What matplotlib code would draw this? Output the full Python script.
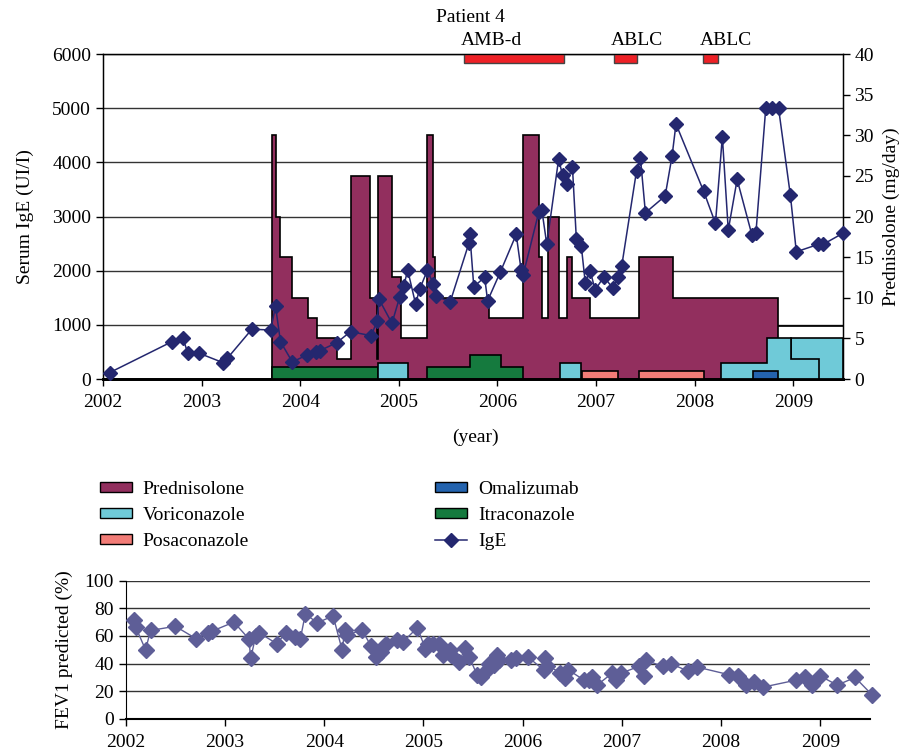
import numpy as np
import matplotlib.pyplot as plt
from matplotlib.patches import Patch
from matplotlib.lines import Line2D

plt.rcParams['font.family'] = ['Liberation Serif', 'DejaVu Serif']
plt.rcParams['font.size'] = 14

years = [2002, 2003, 2004, 2005, 2006, 2007, 2008, 2009]

# serum IgE (left axis)
ige_x = [2002.07, 2002.70, 2002.81, 2002.86, 2002.97, 2003.22, 2003.26, 2003.51, 2003.70,
         2003.75, 2003.80, 2003.92, 2004.07, 2004.16, 2004.20, 2004.37, 2004.51, 2004.72,
         2004.78, 2004.80, 2004.93, 2005.01, 2005.05, 2005.09, 2005.17, 2005.21, 2005.29,
         2005.35, 2005.38, 2005.52, 2005.71, 2005.72, 2005.76, 2005.87, 2005.90, 2006.03,
         2006.19, 2006.24, 2006.26, 2006.42, 2006.45, 2006.50, 2006.62, 2006.66, 2006.70,
         2006.76, 2006.80, 2006.85, 2006.89, 2006.94, 2006.99, 2007.08, 2007.17, 2007.22,
         2007.26, 2007.41, 2007.45, 2007.50, 2007.70, 2007.77, 2007.81, 2008.09, 2008.21,
         2008.28, 2008.34, 2008.43, 2008.58, 2008.62, 2008.72, 2008.78, 2008.85, 2008.97,
         2009.03, 2009.25, 2009.30, 2009.50]
ige_y = [120, 690, 760, 480, 480, 300, 380, 920, 905,
         1340, 690, 315, 445, 495, 525, 670, 875, 800,
         1070, 1470, 1030, 1520, 1720, 2010, 1385, 1655, 2010,
         1750, 1530, 1420, 2505, 2670, 1705, 1880, 1445, 1980,
         2670, 2010, 1920, 3090, 3120, 2490, 4060, 3765, 3610,
         3920, 2580, 2455, 1780, 2000, 1645, 1890, 1675, 1890,
         2090, 3845, 4075, 3070, 3380, 4115, 4710, 3470, 2875,
         4475, 2750, 3685, 2660, 2690, 5000, 5000, 5000, 3390,
         2350, 2485, 2485, 2690]

# treatments (right axis, mg/day scale), step edges + values
pred_edges = [2003.71, 2003.75, 2003.80, 2003.92, 2004.08, 2004.17, 2004.37, 2004.51, 2004.71,
              2004.78, 2004.79, 2004.93, 2005.02, 2005.29, 2005.35, 2005.37, 2005.91, 2006.26,
              2006.42, 2006.45, 2006.51, 2006.62, 2006.71, 2006.76, 2006.94, 2007.44, 2007.78,
              2008.84]
pred_vals = [30, 20, 15, 10, 7.5, 5, 2.5, 25, 10, 2.5, 25, 12.5, 5, 30, 15, 10, 7.5,
             30, 15, 7.5, 20, 7.5, 15, 10, 7.5, 15, 10]
pred_tail_edges = [2008.84, 2009.5]
pred_tail_vals = [6.5]

itra_edges = [2003.71, 2004.79, 2005.29, 2005.72, 2006.04, 2006.26]
itra_vals = [1.5, 0, 1.5, 3, 1.5]

vori_edges = [2004.79, 2005.09, 2006.63, 2006.85, 2008.27, 2008.73, 2008.98, 2009.26]
vori_vals = [2, 0, 2, 0, 2, 5, 2.5]
vori2_edges = [2008.98, 2009.5]
vori2_vals = [5]

posa_edges = [2006.86, 2007.22, 2007.44, 2008.09]
posa_vals = [1, 0, 1]

omal_edges = [2008.59, 2008.84]
omal_vals = [1]

amb_start = [2005.66, 2007.18, 2008.08]
amb_end = [2006.67, 2007.41, 2008.24]
amb_labels = ['AMB-d', 'ABLC', 'ABLC']

# FEV1 % predicted
fev_x = [2002.08, 2002.10, 2002.20, 2002.25, 2002.50, 2002.71, 2002.83, 2002.87, 2003.09,
         2003.24, 2003.26, 2003.31, 2003.34, 2003.52, 2003.62, 2003.71, 2003.76, 2003.81,
         2003.93, 2004.09, 2004.18, 2004.21, 2004.23, 2004.38, 2004.47, 2004.52, 2004.57,
         2004.62, 2004.73, 2004.79, 2004.94, 2005.02, 2005.05, 2005.10, 2005.16, 2005.20,
         2005.27, 2005.28, 2005.36, 2005.42, 2005.46, 2005.54, 2005.58, 2005.64, 2005.66,
         2005.71, 2005.74, 2005.76, 2005.88, 2005.93, 2006.05, 2006.21, 2006.23, 2006.25,
         2006.38, 2006.43, 2006.46, 2006.62, 2006.67, 2006.70, 2006.75, 2006.90, 2006.94,
         2006.99, 2007.17, 2007.22, 2007.24, 2007.41, 2007.49, 2007.67, 2007.76, 2008.08,
         2008.17, 2008.25, 2008.33, 2008.42, 2008.75, 2008.84, 2008.92, 2009.00, 2009.17,
         2009.35, 2009.52]
fev_y = [71.5, 66.5, 50, 64, 67, 58, 62.5, 63.5, 70,
         58, 44, 60, 62.5, 54.5, 62.5, 59.5, 58, 76,
         69.5, 74.5, 50, 64.5, 60.5, 64.5, 53, 45, 48.5,
         54, 57, 55.5, 66, 50.5, 54.5, 54, 54, 46.5,
         49.5, 46.5, 41.5, 51, 45, 32, 30, 35.5, 40,
         39, 46.5, 42.5, 42.5, 44, 45, 35.5, 44, 38.5,
         33.5, 29.5, 35.5, 28, 28, 30.5, 24.5, 33, 28,
         33, 38, 31, 42.5, 38, 40, 34.5, 37.5, 32,
         31, 24.5, 27, 23, 28, 30, 24.5, 31, 24.5,
         30, 17.5]

c_pred = '#922F5E'
c_vori = '#6FCAD8'
c_posa = '#F27C77'
c_omal = '#2463AE'
c_itra = '#157A3E'
c_ige = '#24276F'
c_fev = '#5E5E97'
c_amb = '#EE2026'

fig = plt.figure(figsize=(9.11, 7.52), dpi=100)
ax = fig.add_axes([0.113, 0.496, 0.812, 0.432])
ax2 = ax.twinx()

ax.set_xlim(2002, 2009.5)
ax.set_ylim(0, 6000)
ax.set_yticks(np.arange(0, 6001, 1000))
ax.set_xticks(years)
ax.yaxis.grid(True, color='#333333', lw=1)
ax.set_axisbelow(True)
ax2.set_ylim(0, 40)
ax2.set_yticks(np.arange(0, 41, 5))

ax2.stairs(pred_vals, pred_edges, fill=True, facecolor=c_pred, edgecolor='black', lw=1.2)
ax2.stairs(pred_tail_vals, pred_tail_edges, baseline=None, color='black', lw=1.2)
ax2.stairs(itra_vals, itra_edges, fill=True, facecolor=c_itra, edgecolor='black', lw=1.2)
ax2.stairs(vori2_vals, vori2_edges, fill=True, facecolor=c_vori, edgecolor='black', lw=1.2)
ax2.stairs(vori_vals, vori_edges, fill=True, facecolor=c_vori, edgecolor='black', lw=1.2)
ax2.stairs(posa_vals, posa_edges, fill=True, facecolor=c_posa, edgecolor='black', lw=1.2)
ax2.stairs(omal_vals, omal_edges, fill=True, facecolor=c_omal, edgecolor='black', lw=1.2)

amb_w = np.array(amb_end) - np.array(amb_start)
ax2.bar(amb_start, 1.1, width=amb_w, bottom=38.9, align='edge', color=c_amb,
        edgecolor='#444444', lw=1)
for s, lab in zip(amb_start, amb_labels):
    ax2.annotate(lab, xy=(s, 1), xycoords=('data', 'axes fraction'), xytext=(-2, 10),
                 textcoords='offset points', ha='left', va='center')

# IgE drawn on top, in left-axis units
ax2.plot(ige_x, ige_y, transform=ax.transData, color=c_ige, lw=1.1, marker='D', ms=7.5,
         zorder=5, clip_on=False)

for a in (ax, ax2):
    a.tick_params(direction='out', length=5, width=1)
ax.tick_params(axis='x', pad=6)
for sp in ax.spines.values():
    sp.set_linewidth(1)
ax.spines['bottom'].set_linewidth(2)
ax2.spines['bottom'].set_linewidth(2)

ax.set_ylabel('Serum IgE (UI/I)', labelpad=13)
ax2.set_ylabel('Prednisolone (mg/day)', labelpad=6)
fig.text(475 / 911, 1 - 437 / 752, '(year)', ha='center', va='center')
fig.text(470 / 911, 1 - 17 / 752, 'Patient 4', ha='center', va='center')

h1 = [Patch(facecolor=c_pred, edgecolor='black', label='Prednisolone'),
      Patch(facecolor=c_vori, edgecolor='black', label='Voriconazole'),
      Patch(facecolor=c_posa, edgecolor='black', label='Posaconazole')]
h2 = [Patch(facecolor=c_omal, edgecolor='black', label='Omalizumab'),
      Patch(facecolor=c_itra, edgecolor='black', label='Itraconazole'),
      Line2D([], [], color=c_ige, marker='D', ms=7, lw=1.1, label='IgE')]
for hs, xpos in ((h1, 100), (h2, 435)):
    fig.legend(handles=hs, loc='upper left', bbox_to_anchor=(xpos / 911, 1 - 481 / 752),
               frameon=False, borderpad=0, borderaxespad=0, handlelength=1.65,
               handleheight=0.45, handletextpad=0.55, labelspacing=0.46)

# FEV1
ax3 = fig.add_axes([0.138, 0.0439, 0.817, 0.184])
ax3.plot(fev_x, fev_y, color=c_fev, lw=1, marker='D', ms=8, clip_on=False, zorder=5)
ax3.set_xlim(2002, 2009.5)
ax3.set_ylim(0, 100)
ax3.set_yticks(np.arange(0, 101, 20))
ax3.set_xticks(years)
ax3.yaxis.grid(True, color='#333333', lw=1)
ax3.set_axisbelow(True)
ax3.spines['top'].set_visible(False)
ax3.spines['right'].set_visible(False)
ax3.spines['bottom'].set_linewidth(1.5)
ax3.tick_params(direction='out', length=5, width=1)
ax3.tick_params(axis='x', pad=6)
ax3.set_ylabel('FEV1 predicted (%)', labelpad=8)

plt.savefig('out.png', dpi=100)
